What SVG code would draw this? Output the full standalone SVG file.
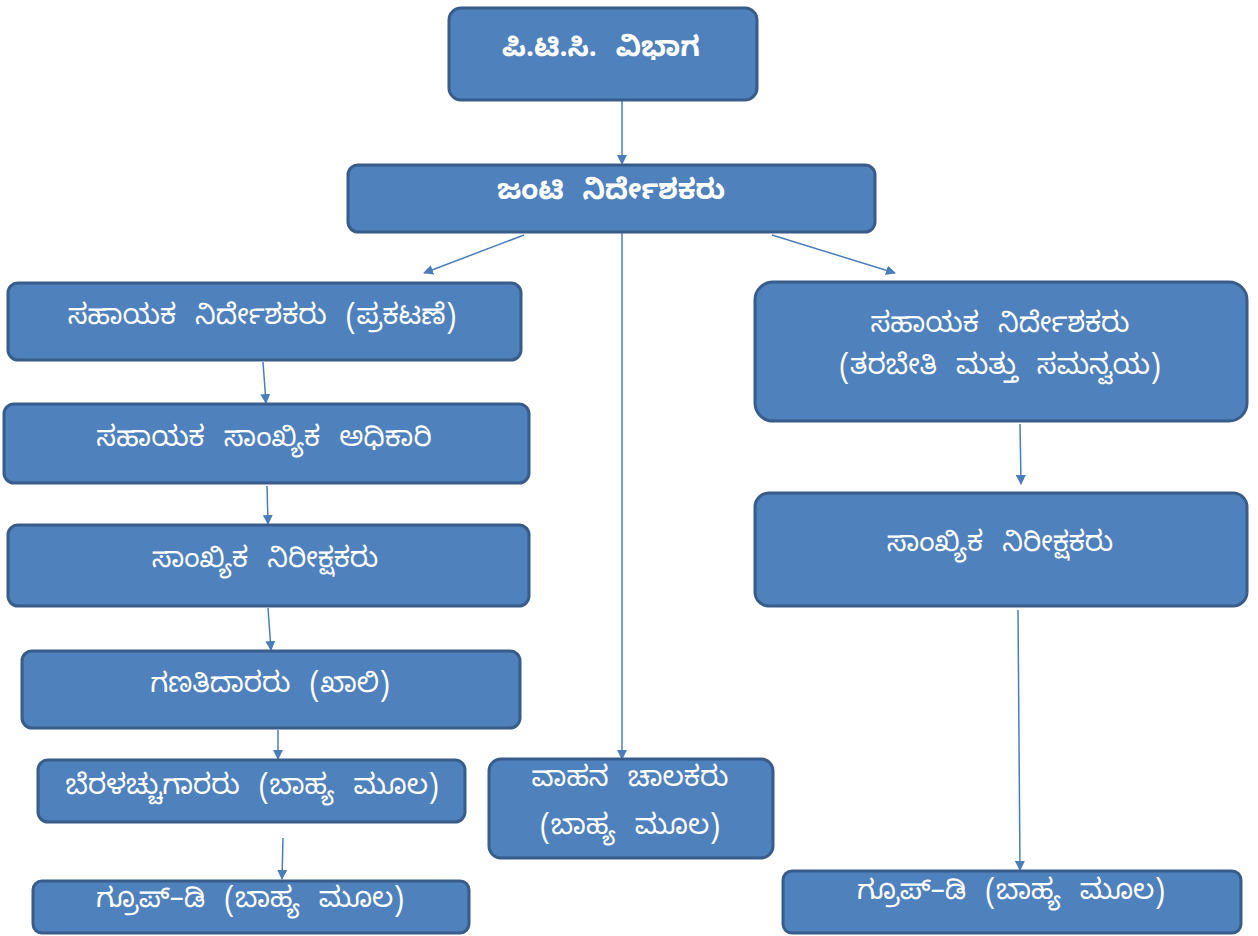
<svg xmlns="http://www.w3.org/2000/svg" width="1258" height="936" viewBox="0 0 1258 936">
<style>
.box{fill:#4F81BD;stroke:#385D8A;stroke-width:3}
.t{fill:#FFFFFF;font-family:"Noto Sans Kannada","Noto Sans","DejaVu Sans",sans-serif;font-size:28px;word-spacing:11px;text-anchor:middle;dominant-baseline:central}
.b{font-weight:bold}
.c{stroke:#4A7EBB;stroke-width:1.5;fill:none;marker-end:url(#ah)}
</style>
<defs>
<marker id="ah" markerWidth="10" markerHeight="10" refX="9" refY="5" orient="auto" markerUnits="userSpaceOnUse">
<path d="M0,0 L10,5 L0,10 Z" fill="#4A7EBB"/>
</marker>
</defs>
<rect width="1258" height="936" fill="#FFFFFF"/>
<g id="connectors">
<line class="c" x1="622" y1="101" x2="622" y2="164"/>
<line class="c" x1="524" y1="235" x2="424" y2="273"/>
<line class="c" x1="772" y1="235" x2="895" y2="273"/>
<line class="c" x1="622" y1="233" x2="622" y2="759"/>
<line class="c" x1="263" y1="362" x2="266" y2="403"/>
<line class="c" x1="267" y1="486" x2="268" y2="524"/>
<line class="c" x1="268" y1="608" x2="271" y2="650"/>
<line class="c" x1="278" y1="730" x2="278" y2="759"/>
<line class="c" x1="283" y1="838" x2="282" y2="879"/>
<line class="c" x1="1020" y1="424" x2="1021" y2="484"/>
<line class="c" x1="1018" y1="610" x2="1020" y2="870"/>
</g>
<g id="n1"><rect class="box" x="449" y="8" width="308" height="92" rx="12"/><text class="t b" x="601" y="52">ಪಿ.ಟಿ.ಸಿ. ವಿಭಾಗ</text></g>
<g id="n2"><rect class="box" x="348" y="165" width="527" height="67" rx="10"/><text class="t b" x="611" y="195">ಜಂಟಿ ನಿರ್ದೇಶಕರು</text></g>
<g id="n3"><rect class="box" x="8" y="283" width="513" height="77" rx="10"/><text class="t" x="262" y="320">ಸಹಾಯಕ ನಿರ್ದೇಶಕರು (ಪ್ರಕಟಣೆ)</text></g>
<g id="n4"><rect class="box" x="4" y="404" width="525" height="79" rx="10"/><text class="t" x="264" y="442">ಸಹಾಯಕ ಸಾಂಖ್ಯಿಕ ಅಧಿಕಾರಿ</text></g>
<g id="n5"><rect class="box" x="8" y="525" width="521" height="81" rx="10"/><text class="t" x="265" y="563">ಸಾಂಖ್ಯಿಕ ನಿರೀಕ್ಷಕರು</text></g>
<g id="n6"><rect class="box" x="22" y="651" width="498" height="77" rx="10"/><text class="t" x="270" y="688">ಗಣತಿದಾರರು (ಖಾಲಿ)</text></g>
<g id="n7"><rect class="box" x="38" y="760" width="427" height="62" rx="10"/><text class="t" x="252" y="790">ಬೆರಳಚ್ಚುಗಾರರು (ಬಾಹ್ಯ ಮೂಲ)</text></g>
<g id="n8"><rect class="box" x="33" y="881" width="436" height="52" rx="9"/><text class="t" x="250" y="903">ಗ್ರೂಪ್–ಡಿ (ಬಾಹ್ಯ ಮೂಲ)</text></g>
<g id="n9"><rect class="box" x="489" y="759" width="284" height="99" rx="12"/><text class="t" x="630" y="782">ವಾಹನ ಚಾಲಕರು</text><text class="t" x="630" y="830">(ಬಾಹ್ಯ ಮೂಲ)</text></g>
<g id="n10"><rect class="box" x="755" y="282" width="492" height="139" rx="18"/><text class="t" x="1000" y="328">ಸಹಾಯಕ ನಿರ್ದೇಶಕರು</text><text class="t" x="1000" y="370">(ತರಬೇತಿ ಮತ್ತು ಸಮನ್ವಯ)</text></g>
<g id="n11"><rect class="box" x="755" y="493" width="492" height="113" rx="14"/><text class="t" x="1000" y="547">ಸಾಂಖ್ಯಿಕ ನಿರೀಕ್ಷಕರು</text></g>
<g id="n12"><rect class="box" x="783" y="871" width="458" height="62" rx="9"/><text class="t" x="1011" y="895">ಗ್ರೂಪ್–ಡಿ (ಬಾಹ್ಯ ಮೂಲ)</text></g>
</svg>
